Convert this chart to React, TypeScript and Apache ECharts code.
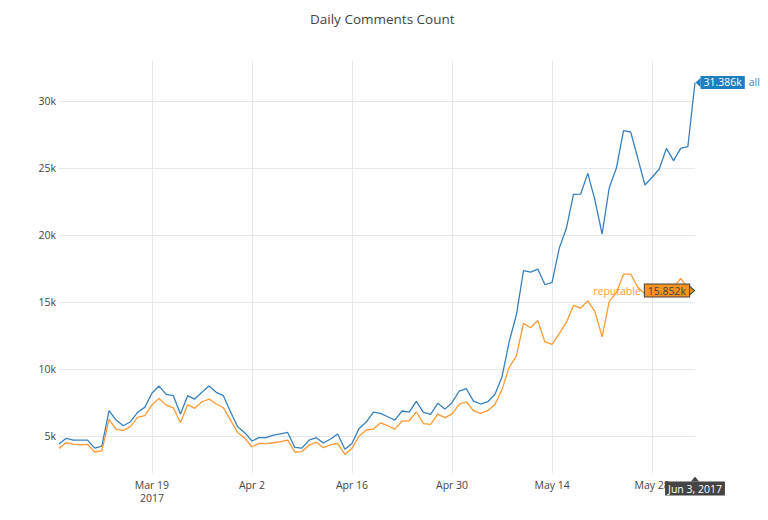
import React, { useEffect, useRef } from "react";
import * as echarts from "echarts";

const START_DATE = "2017-03-06";

const allCounts = [
  4400, 4830, 4700, 4700, 4700, 4100, 4250, 6890, 6190, 5770,
  6070, 6770, 7140, 8190, 8730, 8110, 8010, 6640, 8010, 7760,
  8270, 8730, 8260, 8010, 6810, 5700, 5250, 4630, 4880, 4880,
  5070, 5170, 5270, 4150, 4100, 4700, 4880, 4480, 4780, 5150,
  4010, 4450, 5570, 6040, 6790, 6690, 6440, 6190, 6870, 6790,
  7590, 6770, 6620, 7440, 7010, 7490, 8360, 8530, 7610, 7390,
  7560, 8100, 9430, 12040, 14030, 17340, 17240, 17460, 16290, 16470,
  19010, 20500, 23040, 23060, 24600, 22600, 20070, 23530, 25000, 27800,
  27690, 25720, 23730, 24310, 24930, 26470, 25550, 26470, 26590, 31386,
];

const reputableCounts = [
  4080, 4500, 4400, 4350, 4380, 3810, 3900, 6240, 5500, 5420,
  5700, 6400, 6520, 7310, 7810, 7310, 7110, 5990, 7340, 7070,
  7560, 7760, 7390, 7110, 6190, 5270, 4830, 4200, 4450, 4430,
  4500, 4580, 4700, 3810, 3830, 4330, 4530, 4130, 4350, 4450,
  3630, 4080, 5000, 5450, 5520, 5990, 5770, 5520, 6120, 6140,
  6810, 5920, 5870, 6640, 6370, 6640, 7370, 7560, 6890, 6690,
  6890, 7350, 8480, 10130, 10970, 13410, 13080, 13630, 12020, 11840,
  12640, 13480, 14750, 14550, 15080, 14280, 12400, 15050, 15700, 17090,
  17090, 16100, 15600, 15400, 15600, 15900, 16100, 16770, 16000, 15852,
];

const yTicks = [5000, 10000, 15000, 20000, 25000, 30000];
const xTickDates = ["2017-03-19", "2017-04-02", "2017-04-16", "2017-04-30", "2017-05-14", "2017-05-28"];
const MONTHS = ["Jan", "Feb", "Mar", "Apr", "May", "Jun", "Jul", "Aug", "Sep", "Oct", "Nov", "Dec"];

const Y_MIN = 2242;
const Y_MAX = 32988;

const BLUE = "#3780BF";
const BLUE_BOX = "#1f7dc1";
const ORANGE = "#FF9933";
const ORANGE_BOX = "#f7931e";

function buildDates(start: string, n: number): string[] {
  const [y, m, d] = start.split("-").map(Number);
  const out: string[] = [];
  for (let i = 0; i < n; i++) {
    const dt = new Date(Date.UTC(y, m - 1, d + i));
    const mm = String(dt.getUTCMonth() + 1).padStart(2, "0");
    const dd = String(dt.getUTCDate()).padStart(2, "0");
    out.push(`${dt.getUTCFullYear()}-${mm}-${dd}`);
  }
  return out;
}

const dates = buildDates(START_DATE, allCounts.length);

function tickLabel(value: string): string {
  const [y, m, d] = value.split("-").map(Number);
  const base = `${MONTHS[m - 1]} ${d}`;
  return value === xTickDates[0] ? `${base}\n${y}` : base;
}

function hoverDate(value: string): string {
  const [y, m, d] = value.split("-").map(Number);
  return `${MONTHS[m - 1]} ${d}, ${y}`;
}

const fmtK = (v: number) => `${(v / 1000).toFixed(3)}k`;

const FONT = "Open Sans";
const FS = 10.5;

export default function App() {
  const ref = useRef<HTMLDivElement>(null);
  useEffect(() => {
    document.body.style.margin = "0";
    if (!ref.current) return;
    const chart = echarts.init(ref.current, undefined, { renderer: "svg" });
    const last = allCounts.length - 1;
    const isTick = (_i: number, v: string) => xTickDates.includes(v);

    chart.setOption({
      animation: false,
      backgroundColor: "#fff",
      textStyle: { fontFamily: FONT },
      title: {
        text: "Daily Comments Count",
        left: 305,
        top: 7,
        textStyle: { fontFamily: FONT, fontSize: 13.5, fontWeight: "normal", color: "#444" },
      },
      grid: { left: 59, right: 73, top: 61, bottom: 47 },
      xAxis: {
        type: "category",
        data: dates,
        boundaryGap: false,
        axisLine: { show: false },
        axisTick: { show: false },
        axisLabel: {
          interval: isTick,
          formatter: (v: string) => tickLabel(v),
          color: "#444",
          fontSize: FS,
          fontFamily: FONT,
          margin: 5,
          lineHeight: 13,
        },
        splitLine: { show: true, interval: isTick, lineStyle: { color: "#E5E8EF", width: 1 } },
      },
      yAxis: {
        type: "value",
        min: Y_MIN,
        max: Y_MAX,
        axisLine: { show: false },
        axisTick: { show: false, customValues: yTicks },
        axisLabel: {
          customValues: yTicks,
          formatter: (v: number) => `${v / 1000}k`,
          color: "#444",
          fontSize: FS,
          fontFamily: FONT,
          margin: 3,
        },
        splitLine: { show: true, lineStyle: { color: "#E5E8EF", width: 1 } },
      },
      series: [
        {
          name: "all",
          type: "line",
          data: allCounts,
          showSymbol: false,
          lineStyle: { color: BLUE, width: 1.3 },
          itemStyle: { color: BLUE },
          markPoint: {
            silent: true,
            data: [
              {
                coord: [last, allCounts[last]],
                value: allCounts[last],
                symbol: "path://M0,5 L6,0 L6,10 Z",
                symbolSize: [5, 9],
                symbolKeepAspect: false,
                symbolOffset: [3, 0],
                itemStyle: { color: BLUE_BOX },
                label: {
                  show: true,
                  position: "right",
                  distance: 0,
                  formatter: (p: any) => `{v|${fmtK(p.value)}}{n|all}`,
                  rich: {
                    v: { backgroundColor: BLUE_BOX, color: "#fff", fontSize: FS, fontFamily: FONT, padding: [1, 3, 1, 3], lineHeight: 13 },
                    n: { color: BLUE, fontSize: FS, fontFamily: FONT, padding: [0, 0, 0, 4] },
                  },
                },
              },
              {
                coord: [last, Y_MIN],
                value: 0,
                symbol: "path://M5,0 L10,6 L0,6 Z",
                symbolSize: [8, 5],
                symbolKeepAspect: false,
                symbolOffset: [0, 6],
                itemStyle: { color: "#444" },
                label: {
                  show: true,
                  position: "bottom",
                  distance: 0,
                  formatter: () => hoverDate(dates[last]),
                  backgroundColor: "#444",
                  color: "#fff",
                  fontSize: FS,
                  fontFamily: FONT,
                  padding: [1, 3, 1, 3],
                  lineHeight: 12,
                },
              },
            ],
          },
        },
        {
          name: "reputable",
          type: "line",
          data: reputableCounts,
          showSymbol: false,
          lineStyle: { color: ORANGE, width: 1.3 },
          itemStyle: { color: ORANGE },
          markPoint: {
            silent: true,
            data: [
              {
                coord: [last, reputableCounts[last]],
                value: reputableCounts[last],
                symbol: "path://M6,5 L0,0 L0,10 Z",
                symbolSize: [5, 9],
                symbolKeepAspect: false,
                symbolOffset: [-3, 0],
                itemStyle: { color: ORANGE_BOX, borderColor: "#444", borderWidth: 1 },
                label: {
                  show: true,
                  position: "left",
                  distance: 0,
                  formatter: (p: any) => `{n|reputable}{v|${fmtK(p.value)}}`,
                  rich: {
                    v: {
                      backgroundColor: ORANGE_BOX,
                      borderColor: "#444",
                      borderWidth: 1,
                      color: "#444",
                      fontSize: FS,
                      fontFamily: FONT,
                      padding: [1, 3, 0, 3],
                      lineHeight: 12,
                    },
                    n: { color: ORANGE, fontSize: FS, fontFamily: FONT, padding: [0, 4, 0, 0] },
                  },
                },
              },
            ],
          },
        },
      ],
    });
    return () => chart.dispose();
  }, []);
  return <div ref={ref} style={{ width: 768, height: 520 }} />;
}
